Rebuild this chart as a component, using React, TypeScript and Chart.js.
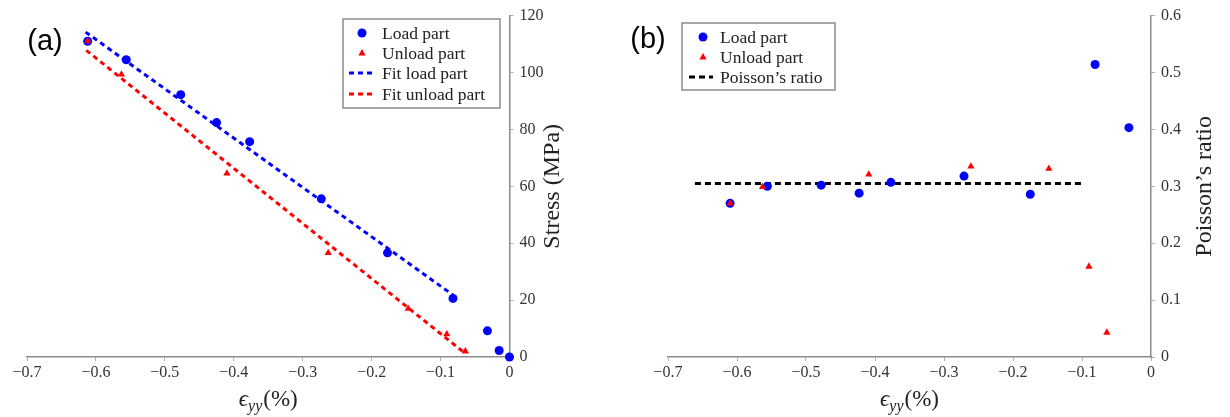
import React, { useEffect, useRef } from "react";
import { Chart, registerables } from "chart.js";

Chart.register(...registerables);

// ---------- Data (a): stress vs strain ----------
const loadStrainA = [-0.612, -0.556, -0.477, -0.425, -0.377, -0.273, -0.177, -0.082, -0.032, -0.015, 0];
const loadStressA = [111, 104.5, 92.2, 82.4, 75.7, 55.6, 36.6, 20.6, 9.2, 2.3, 0];
const unloadStrainA = [-0.612, -0.563, -0.41, -0.263, -0.147, -0.091, -0.064];
const unloadStressA = [111, 99.3, 64.5, 36.6, 17, 8, 2];
const fitLoadStrainA = [-0.615, -0.082];
const fitLoadStressA = [114.2, 21.8];
const fitUnloadStrainA = [-0.614, -0.064];
const fitUnloadStressA = [107.8, 1.2];

// ---------- Data (b): Poisson's ratio vs strain ----------
const loadStrainB = [-0.61, -0.556, -0.478, -0.423, -0.377, -0.271, -0.175, -0.081, -0.032];
const loadRatioB = [0.27, 0.3, 0.302, 0.288, 0.307, 0.318, 0.286, 0.514, 0.403];
const unloadStrainB = [-0.61, -0.563, -0.409, -0.261, -0.148, -0.09, -0.064];
const unloadRatioB = [0.27, 0.299, 0.321, 0.335, 0.331, 0.159, 0.043];
const poissonStrainB = [-0.661, -0.099];
const poissonRatioB = [0.305, 0.305];

const xTicks = [-0.7, -0.6, -0.5, -0.4, -0.3, -0.2, -0.1, 0];
const stressTicks = [0, 20, 40, 60, 80, 100, 120];
const ratioTicks = [0, 0.1, 0.2, 0.3, 0.4, 0.5, 0.6];

const BLUE = "#0000ff";
const RED = "#ff0000";
const SERIF = "'Liberation Serif', 'DejaVu Serif', serif";

const pts = (xs: number[], ys: number[]) => xs.map((x, i) => ({ x, y: ys[i] }));

const fmtX = (v: number) => {
  if (Math.abs(v) < 1e-9) return "0";
  return "\u2212" + Math.abs(v).toFixed(1);
};

type LegendCfg = {
  box: [number, number, number, number];
  rows: number[];
  markerX: number;
  dash: [number, number];
  textX: number;
};

type DecorCfg = {
  panel: string;
  panelX: number;
  panelY: number;
  yTitle: string;
  yTitleX: number;
  xTitleY: number;
  legend: LegendCfg;
};

function makeDecor(cfg: DecorCfg) {
  return {
    id: "decor",
    afterDraw(chart: any) {
      const ctx: CanvasRenderingContext2D = chart.ctx;
      const ca = chart.chartArea;
      ctx.save();
      // panel label
      ctx.fillStyle = "#000";
      ctx.font = "29px 'Liberation Sans', Arial, sans-serif";
      ctx.textAlign = "center";
      ctx.textBaseline = "middle";
      ctx.fillText(cfg.panel, cfg.panelX, cfg.panelY);

      // x title: ϵ_yy(%)
      ctx.fillStyle = "#222";
      ctx.textAlign = "left";
      ctx.textBaseline = "alphabetic";
      const f1 = `italic 23px ${SERIF}`;
      const f2 = `italic 16px ${SERIF}`;
      const f3 = `23px ${SERIF}`;
      ctx.font = f1;
      const w1 = ctx.measureText("\u03f5").width;
      ctx.font = f2;
      const w2 = ctx.measureText("yy").width;
      ctx.font = f3;
      const w3 = ctx.measureText("(%)").width;
      const total = w1 + w2 + 1 + w3;
      let x = (ca.left + ca.right) / 2 - total / 2;
      const by = cfg.xTitleY;
      ctx.font = f1;
      ctx.fillText("\u03f5", x, by);
      x += w1;
      ctx.font = f2;
      ctx.fillText("yy", x, by + 5);
      x += w2 + 1;
      ctx.font = f3;
      ctx.fillText("(%)", x, by);

      // y title rotated
      ctx.save();
      ctx.translate(cfg.yTitleX, (ca.top + ca.bottom) / 2);
      ctx.rotate(-Math.PI / 2);
      ctx.font = `24px ${SERIF}`;
      ctx.textAlign = "center";
      ctx.textBaseline = "middle";
      ctx.fillText(cfg.yTitle, 0, 0);
      ctx.restore();

      // legend
      const L = cfg.legend;
      ctx.fillStyle = "#fff";
      ctx.fillRect(L.box[0], L.box[1], L.box[2] - L.box[0], L.box[3] - L.box[1]);
      ctx.strokeStyle = "#8c8c8c";
      ctx.lineWidth = 1.5;
      ctx.strokeRect(L.box[0], L.box[1], L.box[2] - L.box[0], L.box[3] - L.box[1]);
      chart.data.datasets.forEach((ds: any, i: number) => {
        const y = L.rows[i];
        if (y === undefined) return;
        const col = ds.borderColor || ds.backgroundColor;
        if (ds.showLine) {
          ctx.save();
          ctx.strokeStyle = col;
          ctx.lineWidth = ds.borderWidth;
          ctx.setLineDash(ds.borderDash || []);
          ctx.beginPath();
          ctx.moveTo(L.dash[0], y);
          ctx.lineTo(L.dash[1], y);
          ctx.stroke();
          ctx.restore();
        } else if (ds.pointStyle === "triangle") {
          const r = 4;
          ctx.fillStyle = ds.backgroundColor;
          ctx.beginPath();
          ctx.moveTo(L.markerX, y - r);
          ctx.lineTo(L.markerX + r * 0.9, y + r * 0.6);
          ctx.lineTo(L.markerX - r * 0.9, y + r * 0.6);
          ctx.closePath();
          ctx.fill();
        } else {
          ctx.fillStyle = ds.backgroundColor;
          ctx.beginPath();
          ctx.arc(L.markerX, y, 4.5, 0, Math.PI * 2);
          ctx.fill();
        }
        ctx.fillStyle = "#222";
        ctx.font = `17.5px ${SERIF}`;
        ctx.textAlign = "left";
        ctx.textBaseline = "middle";
        ctx.fillText(ds.label, L.textX, y + 1);
      });
      ctx.restore();
    },
  };
}

function axisCommon(min: number, max: number, tickVals: number[], fmt: (v: number) => string) {
  return {
    type: "linear" as const,
    min,
    max,
    afterBuildTicks: (scale: any) => {
      scale.ticks = tickVals.map((v) => ({ value: v }));
    },
    ticks: {
      color: "#333",
      font: { family: SERIF, size: 16 },
      callback: (v: any) => fmt(Number(v)),
      maxRotation: 0,
      autoSkip: false,
    },
    grid: {
      drawOnChartArea: false,
      drawTicks: true,
      tickLength: 4,
      color: "#b0b0b0",
      lineWidth: 1,
    },
    border: { display: true, color: "#8c8c8c", width: 1.5 },
  };
}

function useChart(ref: React.RefObject<HTMLCanvasElement>, build: () => any) {
  useEffect(() => {
    if (!ref.current) return;
    const chart = new Chart(ref.current, build());
    return () => chart.destroy();
  }, []);
}

export default function App() {
  const refA = useRef<HTMLCanvasElement>(null);
  const refB = useRef<HTMLCanvasElement>(null);

  useChart(refA, () => ({
    type: "scatter",
    data: {
      datasets: [
        {
          label: "Load part",
          data: pts(loadStrainA, loadStressA),
          backgroundColor: BLUE,
          borderColor: BLUE,
          pointStyle: "circle",
          pointRadius: 4.5,
          pointBorderWidth: 0,
          showLine: false,
          clip: false,
          order: 1,
        },
        {
          label: "Unload part",
          data: pts(unloadStrainA, unloadStressA),
          backgroundColor: RED,
          borderColor: RED,
          pointStyle: "triangle",
          pointRadius: 4.2,
          pointBorderWidth: 0,
          showLine: false,
          clip: false,
          order: 0,
        },
        {
          label: "Fit load part",
          data: pts(fitLoadStrainA, fitLoadStressA),
          borderColor: BLUE,
          backgroundColor: BLUE,
          borderWidth: 3,
          borderDash: [5, 4],
          pointRadius: 0,
          showLine: true,
          clip: false,
          order: 2,
        },
        {
          label: "Fit unload part",
          data: pts(fitUnloadStrainA, fitUnloadStressA),
          borderColor: RED,
          backgroundColor: RED,
          borderWidth: 3,
          borderDash: [5, 4],
          pointRadius: 0,
          showLine: true,
          clip: false,
          order: 3,
        },
      ],
    },
    options: {
      responsive: false,
      animation: false,
      devicePixelRatio: 1,
      layout: { padding: { left: 27, top: 13, right: 0, bottom: 0 } },
      plugins: { legend: { display: false }, tooltip: { enabled: false } },
      scales: {
        x: {
          ...axisCommon(-0.7, 0, xTicks, fmtX),
          position: "bottom",
          afterFit: (s: any) => {
            s.height = 60;
          },
          ticks: { ...axisCommon(-0.7, 0, xTicks, fmtX).ticks, padding: 2 },
        },
        y: {
          ...axisCommon(0, 120, stressTicks, (v) => String(Math.round(v))),
          position: "right",
          afterFit: (s: any) => {
            s.width = 90.5;
          },
          ticks: { ...axisCommon(0, 120, stressTicks, (v) => String(Math.round(v))).ticks, padding: 6 },
        },
      },
    },
    plugins: [
      makeDecor({
        panel: "(a)",
        panelX: 45,
        panelY: 42,
        yTitle: "Stress (MPa)",
        yTitleX: 553,
        xTitleY: 406,
        legend: {
          box: [343, 19, 500, 108],
          rows: [33, 53, 73, 94],
          markerX: 362,
          dash: [349, 374],
          textX: 382,
        },
      }),
    ],
  }));

  useChart(refB, () => ({
    type: "scatter",
    data: {
      datasets: [
        {
          label: "Load part",
          data: pts(loadStrainB, loadRatioB),
          backgroundColor: BLUE,
          borderColor: BLUE,
          pointStyle: "circle",
          pointRadius: 4.5,
          pointBorderWidth: 0,
          showLine: false,
          clip: false,
          order: 1,
        },
        {
          label: "Unload part",
          data: pts(unloadStrainB, unloadRatioB),
          backgroundColor: RED,
          borderColor: RED,
          pointStyle: "triangle",
          pointRadius: 4.2,
          pointBorderWidth: 0,
          showLine: false,
          clip: false,
          order: 0,
        },
        {
          label: "Poisson\u2019s ratio",
          data: pts(poissonStrainB, poissonRatioB),
          borderColor: "#000",
          backgroundColor: "#000",
          borderWidth: 3,
          borderDash: [6, 4],
          pointRadius: 0,
          showLine: true,
          clip: false,
          order: 2,
        },
      ],
    },
    options: {
      responsive: false,
      animation: false,
      devicePixelRatio: 1,
      layout: { padding: { left: 68, top: 13, right: 0, bottom: 0 } },
      plugins: { legend: { display: false }, tooltip: { enabled: false } },
      scales: {
        x: {
          ...axisCommon(-0.7, 0, xTicks, fmtX),
          position: "bottom",
          afterFit: (s: any) => {
            s.height = 60;
          },
          ticks: { ...axisCommon(-0.7, 0, xTicks, fmtX).ticks, padding: 2 },
        },
        y: {
          ...axisCommon(0, 0.6, ratioTicks, (v) => (Math.abs(v) < 1e-9 ? "0" : v.toFixed(1))),
          position: "right",
          afterFit: (s: any) => {
            s.width = 79;
          },
          ticks: {
            ...axisCommon(0, 0.6, ratioTicks, (v) => (Math.abs(v) < 1e-9 ? "0" : v.toFixed(1))).ticks,
            padding: 6,
          },
        },
      },
    },
    plugins: [
      makeDecor({
        panel: "(b)",
        panelX: 48,
        panelY: 40,
        yTitle: "Poisson\u2019s ratio",
        yTitleX: 605,
        xTitleY: 406,
        legend: {
          box: [82, 23, 235, 90],
          rows: [37, 57, 77],
          markerX: 103,
          dash: [89, 113],
          textX: 120,
        },
      }),
    ],
  }));

  return (
    <div style={{ position: "absolute", left: 0, top: 0, width: 1230, height: 417, background: "#fff" }}>
      <canvas ref={refA} width={600} height={417} style={{ position: "absolute", left: 0, top: 0, width: 600, height: 417 }} />
      <canvas ref={refB} width={630} height={417} style={{ position: "absolute", left: 600, top: 0, width: 630, height: 417 }} />
    </div>
  );
}
